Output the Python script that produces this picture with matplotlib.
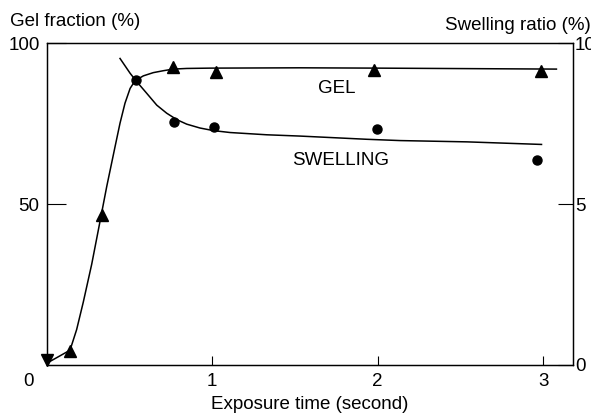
import matplotlib.pyplot as plt

plt.rcParams["font.family"] = ["Liberation Sans", "DejaVu Sans"]

# gel fraction measurements (%)
gel_t = [0.14, 0.333, 0.762, 1.024, 1.979, 2.986]
gel_pct = [4.4, 46.6, 92.6, 91.1, 91.6, 91.4]
gel_origin_t = [0.0]
gel_origin_pct = [1.5]

# swelling ratio measurements
swell_t = [0.539, 0.772, 1.014, 1.995, 2.962]
swell_ratio = [8.85, 7.55, 7.40, 7.32, 6.37]

# hand-fitted trend curves
gel_curve_t = [0.0, 0.142, 0.182, 0.222, 0.273, 0.313, 0.334, 0.364, 0.414,
               0.444, 0.474, 0.505, 0.535, 0.585, 0.645, 0.706, 0.766,
               0.847, 0.988, 1.53, 2.0, 3.08]
gel_curve_pct = [0.5, 4.6, 11.0, 19.5, 31.3, 41.9, 47.5, 55.5, 67.8,
                 75.1, 81.3, 85.9, 88.3, 89.8, 90.8, 91.4, 91.9,
                 92.1, 92.2, 92.3, 92.2, 91.9]
swell_curve_t = [0.444, 0.505, 0.545, 0.605, 0.666, 0.726, 0.787, 0.847,
                 0.927, 1.008, 1.109, 1.33, 1.53, 1.733, 1.935, 2.136,
                 2.54, 2.99]
swell_curve_ratio = [9.52, 9.06, 8.80, 8.44, 8.07, 7.82, 7.62, 7.48,
                     7.36, 7.28, 7.22, 7.15, 7.11, 7.06, 7.01, 6.97,
                     6.93, 6.85]

FS = 13.5

fig = plt.figure(figsize=(5.91, 4.16), dpi=100)
ax = fig.add_axes([0.0787, 0.1226, 0.8908, 0.774])
ax2 = ax.twinx()

ax.plot(gel_curve_t, gel_curve_pct, color="black", lw=1.1,
        solid_joinstyle="round")
ax.plot(gel_t, gel_pct, "^", color="black", ms=9, clip_on=False)
ax.plot(gel_origin_t, gel_origin_pct, "v", color="black", ms=8, clip_on=False)

ax2.plot(swell_curve_t, swell_curve_ratio, color="black", lw=1.1,
         solid_joinstyle="round")
ax2.plot(swell_t, swell_ratio, "o", color="black", ms=6.5)

ax.set_xlim(0, 3.18)
ax.set_ylim(0, 100)
ax2.set_ylim(0, 10)

ax.set_xticks([1, 2, 3])
ax.set_yticks([50, 100])
ax2.set_yticks([0, 5, 10])

ax.tick_params(axis="x", direction="in", length=6.5, width=0.8, pad=6,
               labelsize=FS, top=False)
ax.tick_params(axis="y", direction="in", length=13.5, width=0.8, pad=5,
               labelsize=FS)
ax2.tick_params(axis="y", direction="in", length=11, width=0.8, pad=1.5,
                labelsize=FS)

for a in (ax, ax2):
    for s in a.spines.values():
        s.set_linewidth(0.9)

ax.set_xlabel("Exposure time (second)", fontsize=FS, labelpad=4)

fig.text(10 / 591, 1 - 22 / 416, "Gel fraction (%)", fontsize=FS,
         ha="left", va="center")
fig.text(591 / 591, 1 - 25 / 416, "Swelling ratio (%)", fontsize=FS,
         ha="right", va="center")
fig.text(29 / 591, 1 - 381 / 416, "0", fontsize=FS, ha="center", va="center")

ax.text(1.755, 86, "GEL", fontsize=FS, ha="center", va="center")
ax.text(1.775, 63.5, "SWELLING", fontsize=FS, ha="center", va="center")

fig.savefig("out.png", dpi=100)
